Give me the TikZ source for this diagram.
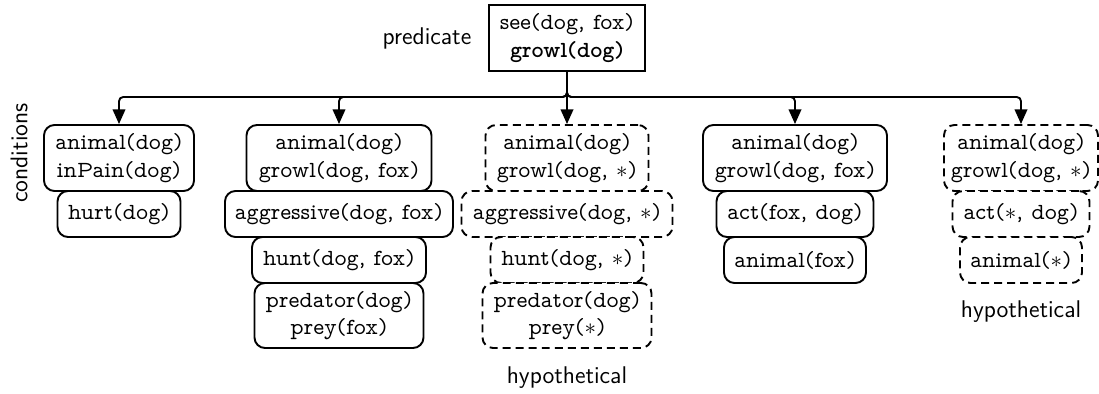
\documentclass[tikz,border=0pt]{standalone}
\usetikzlibrary{arrows.meta}

\tikzset{
  % one pixel of the layout grid, in points
  sz/.style 2 args={minimum width=#1*0.476pt, minimum height=#2*0.476pt},
  txt/.style={font=\fontfamily{lmvtt}\fontsize{11}{13}\selectfont},
  cond/.style={draw, line width=0.9pt, rounded corners=5pt, align=center,
    inner xsep=1pt, inner ysep=1pt, fill=white, txt},
  hyp/.style={cond, dash pattern=on 3.8pt off 2.4pt},
  pred/.style={draw, line width=0.9pt, align=center, inner sep=2pt, txt},
  lab/.style={font=\sffamily\fontsize{11.5}{13}\selectfont, inner sep=0pt},
  arr/.style={line width=0.9pt, rounded corners=2pt,
    -{Triangle[length=7pt,width=6pt]}}
}

\begin{document}
\begin{tikzpicture}[x=0.476pt, y=-0.476pt]
\useasboundingbox (0,0) rectangle (1099,394);

% predicate
\node[pred, sz={156}{66}] (T) at (567,38) {see(dog, fox)\\\textbf{growl(dog)}};
\node[lab] (Tlab) at (427,38) {predicate};
\node[lab, rotate=90] (Clab) at (19,153) {conditions};

% column 1
\node[cond, sz={150}{66}] (A1) at (119,158) {animal(dog)\\inPain(dog)};
\node[cond, sz={123}{46}] (A2) at (119,214) {hurt(dog)};

% column 2
\node[cond, sz={185}{66}] (B1) at (339,158) {animal(dog)\\growl(dog, fox)};
\node[cond, sz={228}{46}] (B2) at (339,214) {aggressive(dog, fox)};
\node[cond, sz={174}{46}] (B3) at (339,260) {hunt(dog, fox)};
\node[cond, sz={169}{65}] (B4) at (339,315.5) {predator(dog)\\prey(fox)};

% column 3
\node[hyp, sz={163}{66}] (C1) at (567,158) {animal(dog)\\growl(dog, $\ast$)};
\node[hyp, sz={211}{46}] (C2) at (567,214) {aggressive(dog, $\ast$)};
\node[hyp, sz={153}{46}] (C3) at (567,260) {hunt(dog, $\ast$)};
\node[hyp, sz={169}{65}] (C4) at (567,315.5) {predator(dog)\\prey($\ast$)};
\node[lab] (H3) at (567,378) {hypothetical};

% column 4
\node[cond, sz={184}{66}] (D1) at (795,158) {animal(dog)\\growl(dog, fox)};
\node[cond, sz={157}{46}] (D2) at (795,214) {act(fox, dog)};
\node[cond, sz={142}{46}] (D3) at (795,260) {animal(fox)};

% column 5
\node[hyp, sz={154}{66}] (E1) at (1021,158) {animal(dog)\\growl(dog, $\ast$)};
\node[hyp, sz={137}{46}] (E2) at (1021,214) {act($\ast$, dog)};
\node[hyp, sz={122}{46}] (E3) at (1021,260) {animal($\ast$)};
\node[lab] (H5) at (1021,312) {hypothetical};

% branching connectors
\coordinate (bus) at (567,97);
\draw[arr] (T.south) -- (C1.north);
\draw[arr] (T.south) -- (bus) -| (A1.north);
\draw[arr] (T.south) -- (bus) -| (B1.north);
\draw[arr] (T.south) -- (bus) -| (D1.north);
\draw[arr] (T.south) -- (bus) -| (E1.north);
\end{tikzpicture}
\end{document}
